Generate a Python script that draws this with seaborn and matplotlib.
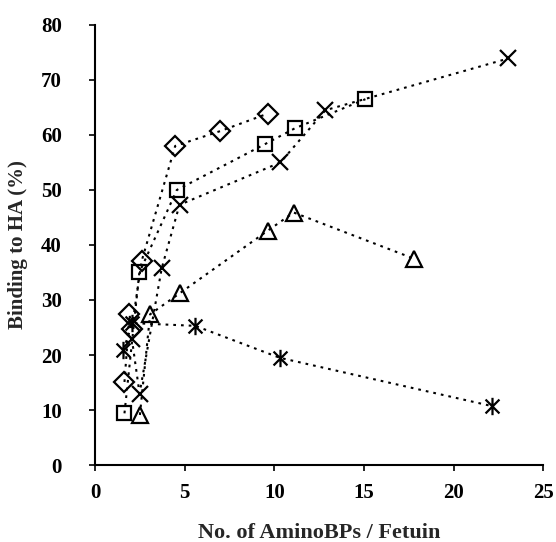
import matplotlib
matplotlib.use("Agg")
import matplotlib.pyplot as plt
from matplotlib.path import Path
import numpy as np
import pandas as pd
import seaborn as sns

# ---- data ----
diamond_x = [1.64, 1.92, 2.04, 2.60, 4.47, 6.98, 9.65]
diamond_y = [15.1, 27.4, 24.7, 37.1, 58.0, 60.7, 63.9]

square_x = [1.64, 2.47, 4.56, 9.46, 11.14, 15.08]
square_y = [9.4, 35.0, 50.0, 58.3, 61.2, 66.5]

triangle_x = [2.50, 3.07, 4.71, 9.63, 11.08, 17.80]
triangle_y = [9.1, 27.4, 31.2, 42.6, 45.9, 37.5]

cross_x = [2.05, 2.48, 3.72, 4.71, 10.34, 12.85, 23.05]
cross_y = [23.0, 13.0, 35.8, 47.3, 55.0, 64.5, 73.9]

star_x = [1.58, 2.08, 5.59, 10.30, 22.16]
star_y = [20.9, 25.8, 25.3, 19.5, 10.7]

x_ticks = [0, 5, 10, 15, 20, 25]
y_ticks = [0, 10, 20, 30, 40, 50, 60, 70, 80]
x_label = "No. of AminoBPs / Fetuin"
y_label = "Binding to HA (%)"

# ---- style ----
sns.set_theme(style="ticks")
plt.rcParams["font.family"] = ["Liberation Serif", "DejaVu Serif"]
plt.rcParams["font.weight"] = "bold"

fig = plt.figure(figsize=(5.56, 5.42), dpi=100)
ax = fig.add_axes([0.171, 0.142, 0.806, 0.812])

star_marker = Path(
    [(-1, -1), (1, 1), (-1, 1), (1, -1), (0, -1.25), (0, 1.25)],
    [Path.MOVETO, Path.LINETO, Path.MOVETO, Path.LINETO, Path.MOVETO, Path.LINETO],
)

series = [
    (diamond_x, diamond_y, "D", 10),
    (square_x, square_y, "s", 10),
    (triangle_x, triangle_y, "^", 12),
    (cross_x, cross_y, "x", 12),
    (star_x, star_y, star_marker, 12.5),
]

for xs, ys, mk, ms in series:
    df = pd.DataFrame({"x": xs, "y": ys})
    sns.lineplot(
        data=df, x="x", y="y", sort=False, ax=ax, color="black",
        linestyle=(0, (1.3, 2.4)), linewidth=1.5,
        marker=mk, markersize=ms, markerfacecolor="none",
        markeredgecolor="black", markeredgewidth=1.6,
    )

ax.set_xlim(0, 25)
ax.set_ylim(0, 80)
ax.set_xticks(x_ticks)
ax.set_yticks(y_ticks)
ax.set_xticklabels([str(t) for t in x_ticks], fontsize=15, fontweight="bold")
ax.set_yticklabels([str(t) for t in y_ticks], fontsize=15, fontweight="bold")
ax.set_xlabel(x_label, fontsize=16, fontweight="bold", labelpad=14)
ax.set_ylabel(y_label, fontsize=15, fontweight="bold", labelpad=9)

for s in ["top", "right"]:
    ax.spines[s].set_visible(False)
for s in ["left", "bottom"]:
    ax.spines[s].set_color("black")
    ax.spines[s].set_linewidth(1.5)
ax.tick_params(axis="both", direction="out", length=4, width=1.2, color="black",
               labelcolor="black")
ax.tick_params(axis="x", pad=9)
ax.tick_params(axis="y", pad=20)
ax.set_facecolor("white")
fig.patch.set_facecolor("white")

fig.savefig("out.png", dpi=100, facecolor="white")
